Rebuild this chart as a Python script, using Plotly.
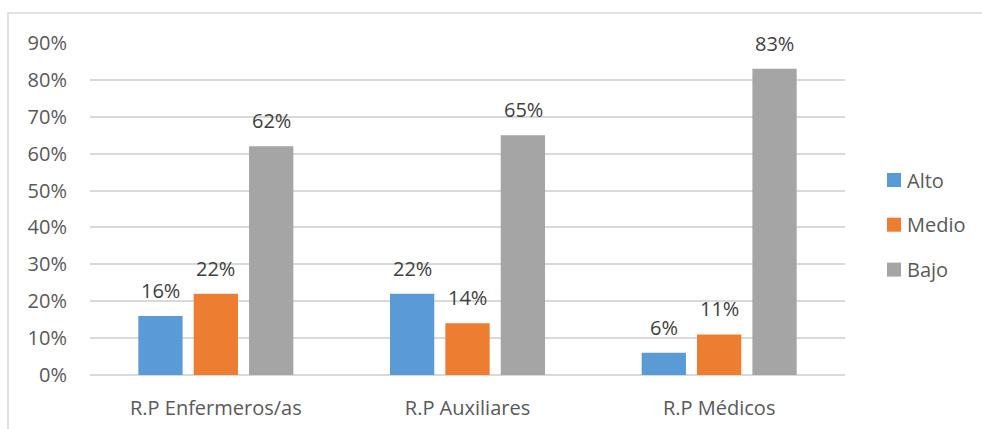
import plotly.graph_objects as go

# Data
categories = ["R.P Enfermeros/as", "R.P Auxiliares", "R.P Médicos"]
series_names = ["Alto", "Medio", "Bajo"]
alto = [16, 22, 6]
medio = [22, 14, 11]
bajo = [62, 65, 83]
y_ticks = [0, 10, 20, 30, 40, 50, 60, 70, 80, 90]

colors = ["#5B9BD5", "#ED7D31", "#A5A5A5"]
text_color = "#595959"
label_color = "#404040"
grid_color = "#D9D9D9"
font_family = "'Open Sans', sans-serif"
font_size = 20

# Plot-area geometry in pixels (used to place frame and legend in paper units)
W, H = 982, 429
L, R, T, B = 90, 137, 43, 54
PW, PH = W - L - R, H - T - B


def px_x(px):
    return (px - L) / PW


def px_y(py):
    return (H - B - py) / PH


fig = go.Figure()
series = [alto, medio, bajo]
for i, (name, vals) in enumerate(zip(series_names, series)):
    fig.add_trace(go.Bar(
        x=categories,
        y=[v / 100 for v in vals],
        name=name,
        marker=dict(color=colors[i], line=dict(width=0)),
        showlegend=False,
    ))

# Value labels above each bar
slot_px = 55.5
for i, vals in enumerate(series):
    for cat, v in zip(categories, vals):
        fig.add_annotation(
            x=cat, y=v / 100, xref="x", yref="y",
            text=f"{v}%", showarrow=False,
            xshift=(i - 1) * slot_px, yshift=10,
            yanchor="bottom",
            font=dict(family=font_family, size=font_size, color=label_color),
        )

# Legend: colour squares with series names
legend_y = [180, 224.7, 269.6]
for name, col, cy in zip(series_names, colors, legend_y):
    fig.add_shape(type="rect", xref="paper", yref="paper",
                  x0=px_x(887), x1=px_x(901),
                  y0=px_y(cy + 7), y1=px_y(cy - 7),
                  fillcolor=col, line=dict(width=0))
    fig.add_annotation(x=px_x(905), y=px_y(cy), xref="paper", yref="paper",
                       text=name, showarrow=False,
                       xanchor="left", yanchor="middle",
                       font=dict(family=font_family, size=font_size,
                                 color=text_color))

# Light outer frame
fig.add_shape(type="rect", xref="paper", yref="paper",
              x0=px_x(8), x1=px_x(1000), y0=px_y(440), y1=px_y(13),
              line=dict(color=grid_color, width=1.5), layer="below")

fig.update_layout(
    width=W, height=H,
    margin=dict(l=L, r=R, t=T, b=B, autoexpand=False),
    paper_bgcolor="white", plot_bgcolor="white",
    barmode="group", bargap=0.34, bargroupgap=0.2,
    font=dict(family=font_family, size=font_size, color=text_color),
    showlegend=False,
    xaxis=dict(
        showgrid=False, zeroline=False, showline=False, automargin=False,
        ticks="", ticklabelstandoff=19,
        tickfont=dict(family=font_family, size=font_size, color=text_color),
    ),
    yaxis=dict(
        range=[0, 0.9], tickvals=[t / 100 for t in y_ticks],
        ticktext=[f"{t}%" for t in y_ticks], automargin=False,
        showgrid=True, gridcolor=grid_color, gridwidth=1.5,
        zeroline=True, zerolinecolor=grid_color, zerolinewidth=1.5,
        showline=False, ticks="", ticklabelstandoff=22,
        tickfont=dict(family=font_family, size=font_size, color=text_color),
    ),
)

fig.write_html("out.html")
